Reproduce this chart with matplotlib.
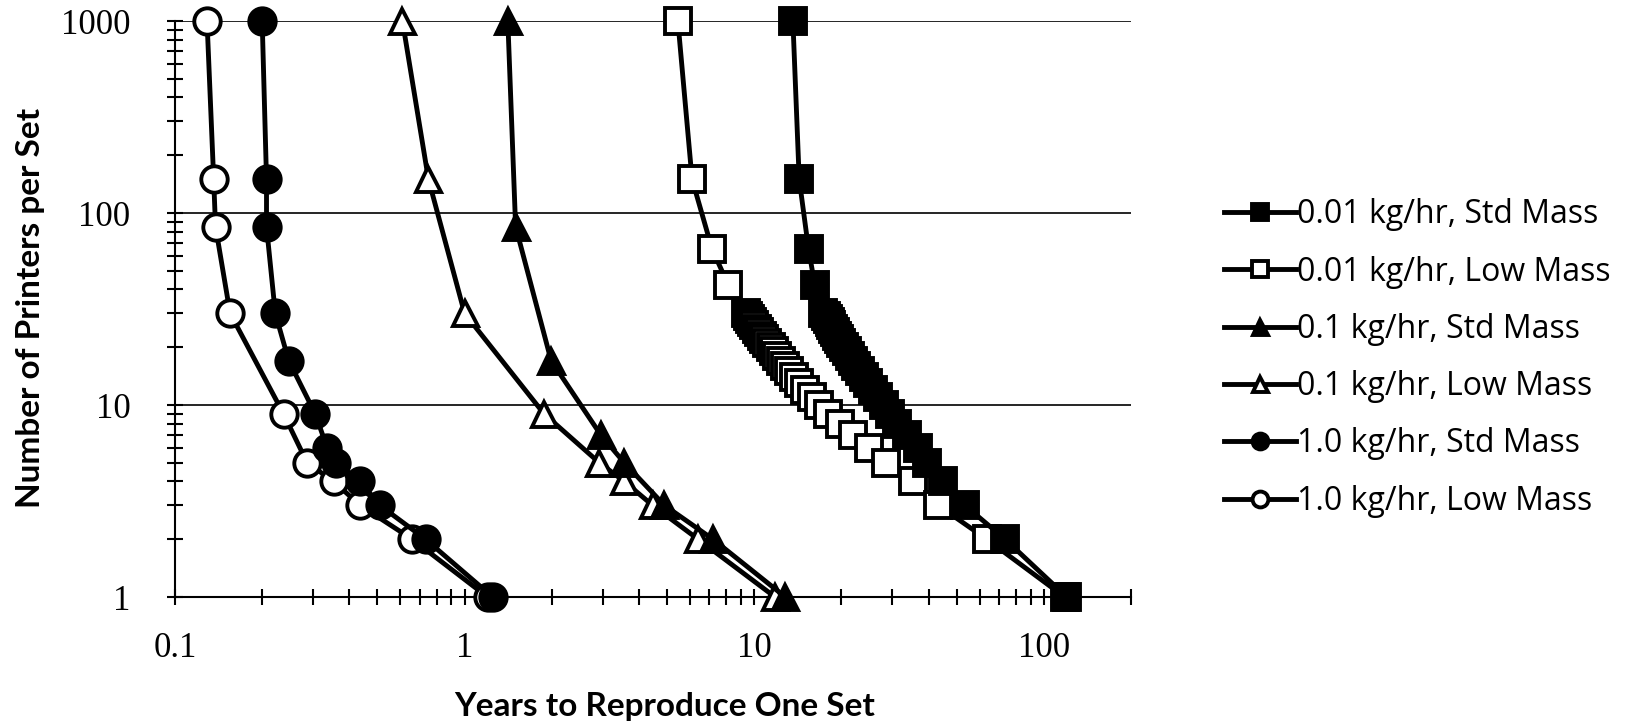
import matplotlib
matplotlib.use("Agg")
import matplotlib.pyplot as plt
from matplotlib.ticker import LogLocator, NullFormatter, FixedLocator, FixedFormatter

# printers per set (y) and years to reproduce one set (x)
n_sq = [1000, 150, 65, 42, 30, 29, 28, 27, 26, 25, 24, 23, 22, 21, 20, 19, 18,
        17, 16, 15, 14, 13, 12, 11, 10, 9, 8, 7, 6, 5, 4, 3, 2, 1]
yrs_001_std = [13.6, 14.3, 15.4, 16.2, 17.3, 17.7, 17.95, 18.2, 18.45, 18.7, 19.0,
               19.3, 19.6, 20.0, 20.4, 20.9, 21.4, 21.9, 22.5, 23.2, 23.9, 24.8,
               25.7, 26.8, 28.0, 29.4, 31.2, 33.7, 36.8, 39.4, 45.0, 53.4, 73.5, 120]
yrs_001_low = [5.45, 6.1, 7.15, 8.15, 9.4, 9.55, 9.7, 9.85, 10.0, 10.2, 10.4,
               10.6, 10.85, 11.1, 11.4, 11.7, 12.0, 12.4, 12.8, 13.2, 13.7, 14.3,
               15.0, 15.8, 16.8, 18.0, 19.8, 22.0, 25.0, 28.6, 35.4, 43.2, 63.5, 118]

n_01_std = [1000, 85, 17, 7, 5, 3, 2, 1]
yrs_01_std = [1.41, 1.50, 1.99, 2.95, 3.56, 4.9, 7.2, 12.8]
n_01_low = [1000, 150, 30, 9, 5, 4, 3, 2, 1]
yrs_01_low = [0.61, 0.75, 1.0, 1.88, 2.92, 3.56, 4.46, 6.4, 11.8]

n_1_std = [1000, 150, 85, 30, 17, 9, 6, 5, 4, 3, 2, 1]
yrs_1_std = [0.20, 0.207, 0.207, 0.222, 0.247, 0.305, 0.335, 0.36, 0.436, 0.51, 0.733, 1.25]
n_1_low = [1000, 150, 85, 30, 9, 5, 4, 3, 2, 1]
yrs_1_low = [0.129, 0.136, 0.138, 0.155, 0.237, 0.286, 0.353, 0.436, 0.659, 1.2]

labels = ["0.01 kg/hr, Std Mass", "0.01 kg/hr, Low Mass", "0.1 kg/hr, Std Mass",
          "0.1 kg/hr, Low Mass", "1.0 kg/hr, Std Mass", "1.0 kg/hr, Low Mass"]

fig = plt.figure(figsize=(16.39, 7.22), dpi=100)
ax = fig.add_axes([175 / 1639, 125 / 722, 956 / 1639, 576 / 722])

series = [
    (yrs_001_std, n_sq, "s", "black", 19, 4),
    (yrs_001_low, n_sq, "s", "white", 19, 3),
    (yrs_01_std, n_01_std, "^", "black", 18, 4),
    (yrs_01_low, n_01_low, "^", "white", 18, 3),
    (yrs_1_std, n_1_std, "o", "black", 19, 4),
    (yrs_1_low, n_1_low, "o", "white", 19, 3),
]
for (x, y, m, fc, ms, z), lab in zip(series, labels):
    ax.plot(x, y, color="black", lw=3.5, marker=m, ms=ms, mfc=fc, mec="black",
            mew=2.8, label=lab, clip_on=False, zorder=z)

ax.set_xscale("log")
ax.set_yscale("log")
ax.set_xlim(0.1, 200)
ax.set_ylim(1, 1000)

ax.yaxis.grid(True, which="major", color="black", lw=1.2)
ax.set_axisbelow(True)
for s in ["top", "right"]:
    ax.spines[s].set_visible(False)
for s in ["left", "bottom"]:
    ax.spines[s].set_linewidth(1.5)

ax.xaxis.set_major_locator(FixedLocator([0.1, 1, 10, 100, 200]))
ax.xaxis.set_major_formatter(FixedFormatter(["0.1", "1", "10", "100", ""]))
ax.xaxis.set_minor_locator(LogLocator(base=10, subs=range(2, 10), numticks=20))
ax.xaxis.set_minor_formatter(NullFormatter())
ax.yaxis.set_major_locator(FixedLocator([1, 10, 100, 1000]))
ax.yaxis.set_major_formatter(FixedFormatter(["1", "10", "100", "1000"]))
ax.yaxis.set_minor_locator(LogLocator(base=10, subs=range(2, 10), numticks=20))
ax.yaxis.set_minor_formatter(NullFormatter())

ax.tick_params(which="both", direction="inout", length=12, width=1.5, color="black")
ax.tick_params(axis="x", which="major", pad=19)
ax.tick_params(axis="y", which="major", pad=26)
for t in ax.get_xticklabels() + ax.get_yticklabels():
    t.set_fontfamily("Liberation Serif")
    t.set_fontsize(25)

ax.set_xlabel("Years to Reproduce One Set", fontsize=24, fontweight="bold", family="Lato")
ax.xaxis.set_label_coords(0.5126, -0.165)
fig.text(31 / 1639, 1 - 308 / 722, "Number of Printers per Set", rotation=90,
         ha="center", va="center", fontsize=24, fontweight="bold", family="Lato")

leg = fig.legend(loc="center left", bbox_to_anchor=(1208 / 1639, 1 - 358 / 722),
                 frameon=False, markerscale=0.6, handlelength=2.25,
                 handletextpad=0.05, labelspacing=0.76, borderpad=0,
                 prop={"family": "Open Sans", "size": 23})

fig.savefig("out.png", dpi=100)
